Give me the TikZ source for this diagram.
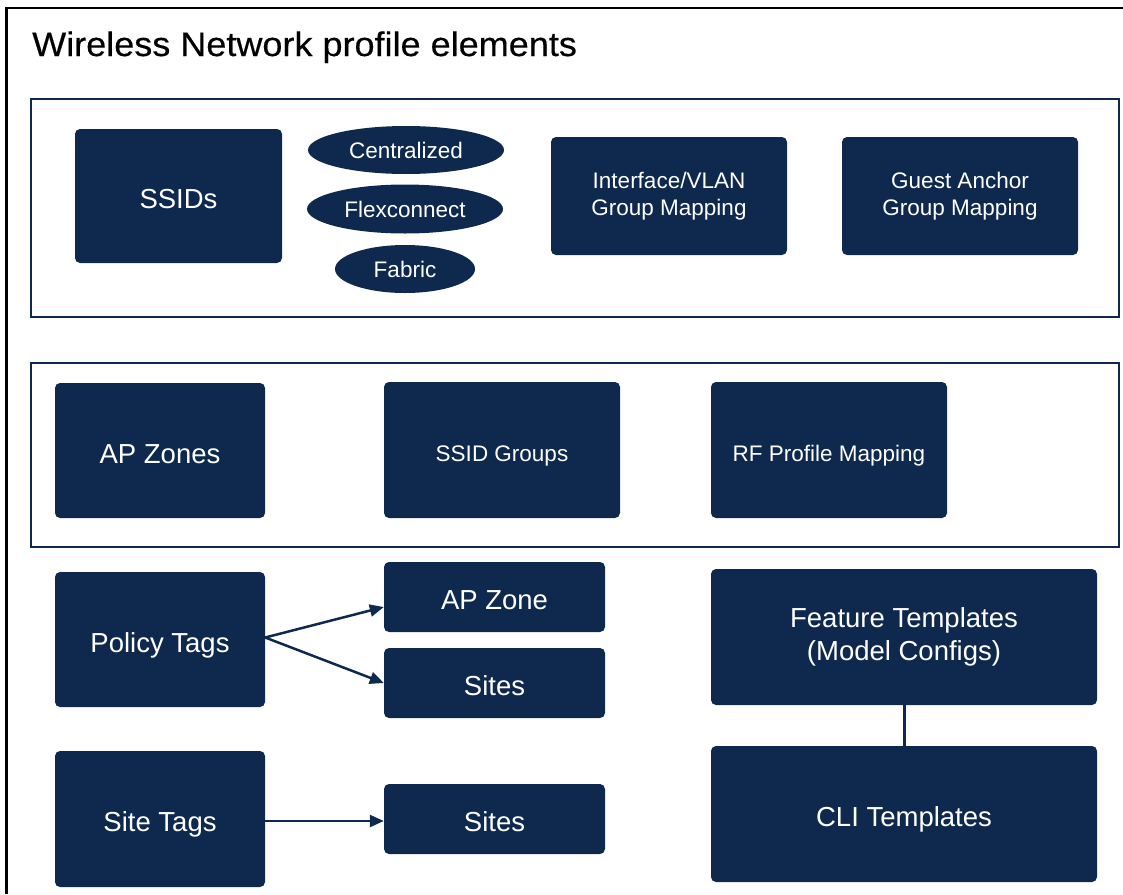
\documentclass[tikz,border=0pt]{standalone}
\usepackage{fontspec}
\setmainfont{Liberation Sans}
\newfontfamily\titlefont[FakeStretch=1.06,FakeBold=0.4]{Liberation Sans}
\usetikzlibrary{shapes.geometric,arrows.meta}
\definecolor{navy}{RGB}{15,41,78}
\tikzset{
  box/.style={fill=navy, draw=none, rounded corners=5pt, text=white, align=center, inner sep=0pt},
  big/.style={font=\fontsize{27.5}{33}\selectfont},
  mid/.style={font=\fontsize{22.5}{27}\selectfont},
  bigone/.style={big, text height=27.5pt, text depth=1.8pt},
  midone/.style={mid, text height=24pt, text depth=0.9pt},
  oval/.style={ellipse, fill=navy, draw=none, text=white, inner sep=0pt, font=\fontsize{22.5}{27}\selectfont},
  frame/.style={draw=navy, line width=2pt},
  conn/.style={draw=navy, line width=2.5pt, -{Triangle[length=14pt,width=12pt]}},
}
\begin{document}
\begin{tikzpicture}[x=1pt,y=-1pt]
\useasboundingbox (0,0) rectangle (1123,894);
% outer border
\draw[black, line width=2.5pt] (6.5,894) -- (6.5,8) -- (1123,8);
\node[anchor=base west, font=\titlefont\fontsize{34}{40}\selectfont, inner sep=0pt] (title) at (32,56) {Wireless Network profile elements};
% frames
\draw[frame] (31,99) rectangle (1119,317);
\draw[frame] (31,363) rectangle (1119,547);
% row 1
\node[box, bigone, minimum width=207pt, minimum height=134pt] (ssids) at (178.5,196) {SSIDs};
\node[oval, minimum width=196pt, minimum height=48pt] (cen) at (406,150) {Centralized};
\node[oval, minimum width=196pt, minimum height=49pt] (flex) at (405,209) {Flexconnect};
\node[oval, minimum width=140pt, minimum height=48pt] (fab) at (405,269) {Fabric};
\node[box, mid, minimum width=236pt, minimum height=118pt] (ifv) at (669,196) {Interface/VLAN\\Group Mapping};
\node[box, mid, minimum width=236pt, minimum height=118pt] (ga) at (960,196) {Guest Anchor\\Group Mapping};
% row 2
\node[box, bigone, minimum width=210pt, minimum height=135pt] (apzs) at (160,450.5) {AP Zones};
\node[box, midone, minimum width=236pt, minimum height=136pt] (sg) at (502,450) {SSID Groups};
\node[box, midone, minimum width=236pt, minimum height=136pt] (rf) at (829,450) {RF Profile Mapping};
% row 3
\node[box, bigone, minimum width=210pt, minimum height=135pt] (pt) at (160,639.5) {Policy Tags};
\node[box, bigone, minimum width=221pt, minimum height=70pt] (apz) at (494.5,597) {AP Zone};
\node[box, bigone, minimum width=221pt, minimum height=70pt] (s1) at (494.5,683) {Sites};
\node[box, bigone, minimum width=210pt, minimum height=136pt] (st) at (160,819) {Site Tags};
\node[box, bigone, minimum width=221pt, minimum height=70pt] (s2) at (494.5,819) {Sites};
\node[box, big, minimum width=386pt, minimum height=136pt] (ft) at (904,637) {Feature Templates\\(Model Configs)};
\node[box, bigone, minimum width=386pt, minimum height=136pt] (cli) at (904,814) {CLI Templates};
% connectors
\draw[conn] ([yshift=2pt]pt.east) -- ([yshift=-10pt]apz.west);
\draw[conn] ([yshift=2pt]pt.east) -- (s1.west);
\draw[conn] ([yshift=-2pt]st.east) -- ([yshift=-2pt]s2.west);
\draw[navy, line width=3pt] (ft.south) -- (cli.north);
\end{tikzpicture}
\end{document}
